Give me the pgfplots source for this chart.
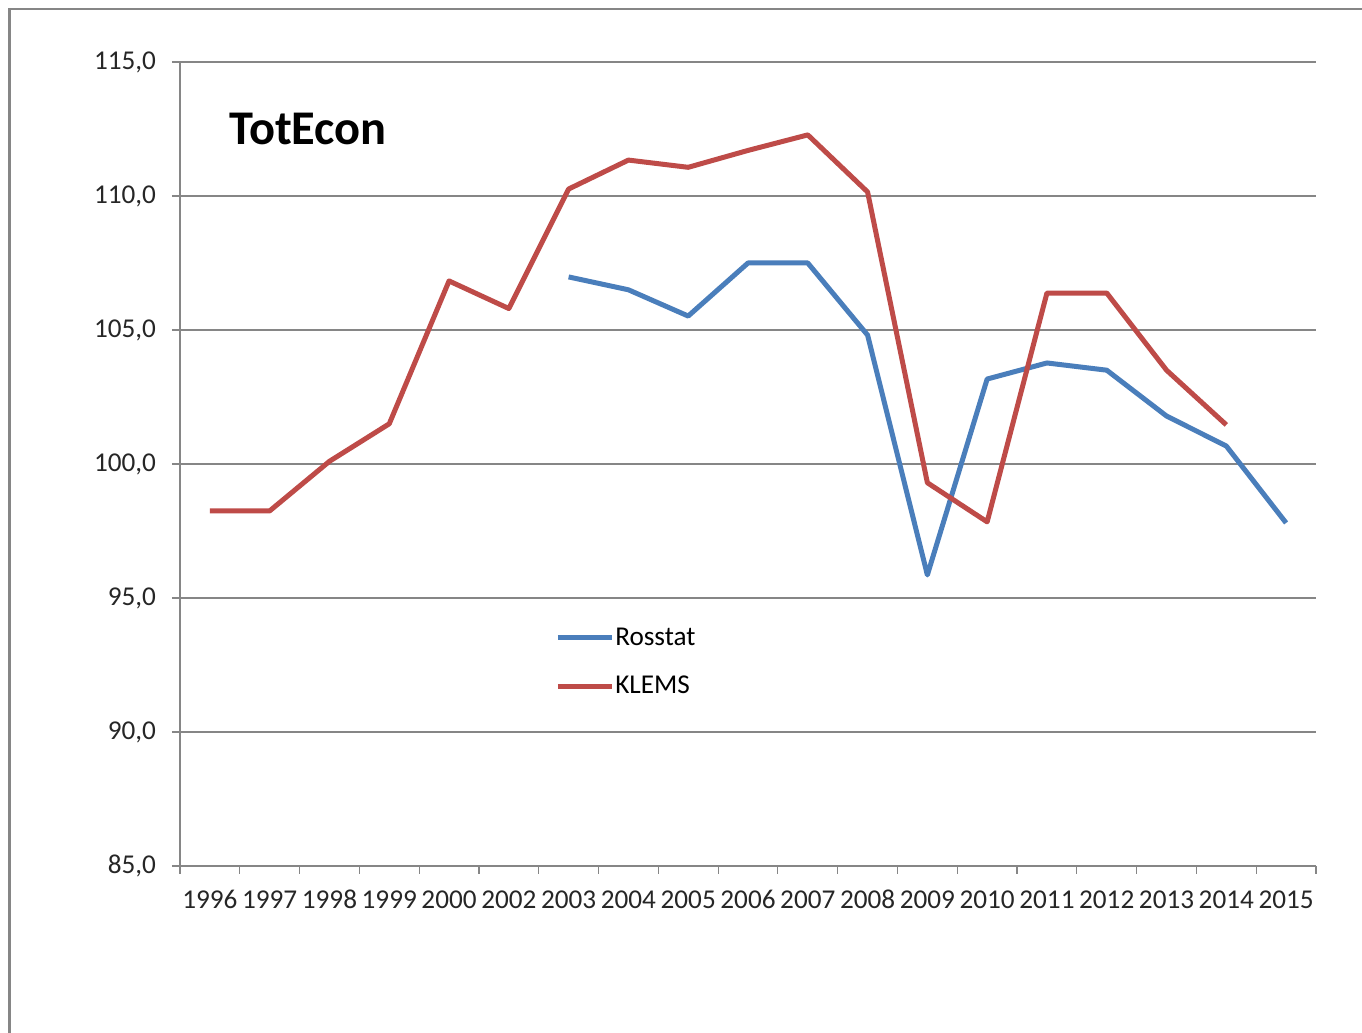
\documentclass[border=0pt]{standalone}
\usepackage{pgfplots}
\pgfplotsset{compat=1.18}
\usepackage{fontspec}
\setmainfont{Carlito}
\definecolor{rossblue}{HTML}{4A7EBB}
\definecolor{klemsred}{HTML}{BE4B48}
\definecolor{gridgray}{HTML}{868686}
\begin{document}
\begin{tikzpicture}
\path[use as bounding box] (0pt,0pt) rectangle (681pt,516.5pt);
\draw[color=gray!95, line width=1.3pt] (4.7pt,0pt) -- (4.7pt,512pt) -- (681pt,512pt);
\begin{axis}[
  at={(90pt,83.5pt)}, anchor=south west,
  scale only axis, width=568pt, height=402pt,
  xmin=-0.5, xmax=18.5, ymin=85, ymax=115,
  xtick={0,...,18},
  xticklabels={1996,1997,1998,1999,2000,2002,2003,2004,2005,2006,2007,2008,2009,2010,2011,2012,2013,2014,2015},
  minor xtick={-0.5,0.5,...,18.5},
  ytick={85,90,...,115},
  major x tick style={draw=none},
  tick align=outside,
  major tick length=4pt, minor tick length=4pt,
  tick style={gridgray, line width=0.6pt},
  axis x line*=bottom, axis y line*=left,
  axis line style={gridgray, line width=0.6pt, -},
  ymajorgrids, grid style={gridgray, line width=0.6pt},
  yticklabel style={/pgf/number format/fixed, /pgf/number format/fixed zerofill,
    /pgf/number format/precision=1, /pgf/number format/use comma,
    /pgf/number format/1000 sep={}, xshift=-4.5pt},
  /pgf/number format/assume math mode=true,
  ticklabel style={font=\fontsize{13.6}{15}\selectfont, text=black!85},
  xticklabel style={text height=9.5pt, text depth=0pt, yshift=-4pt},
  legend style={at={(rel axis cs:0.33,0.297)}, anchor=north west, draw=none, fill=none,
    font=\fontsize{13.6}{15}\selectfont, row sep=14pt, inner sep=0pt,
    nodes={inner xsep=0.5pt, inner ysep=0pt}},
  legend cell align=left,
  legend image code/.code={\draw[#1] (0pt,0pt) -- (27pt,0pt);},
  clip=false,
]
\addplot[rossblue, line width=2.5pt, line join=round] coordinates {
(6,106.98) (7,106.5) (8,105.52) (9,107.5) (10,107.5) (11,104.81) (12,95.86)
(13,103.17) (14,103.77) (15,103.5) (16,101.79) (17,100.67) (18,97.8)};
\addlegendentry{Rosstat}
\addplot[klemsred, line width=2.5pt, line join=round] coordinates {
(0,98.25) (1,98.25) (2,100.1) (3,101.5) (4,106.83) (5,105.8) (6,110.26)
(7,111.34) (8,111.07) (9,111.7) (10,112.28) (11,110.15) (12,99.3) (13,97.84)
(14,106.38) (15,106.38) (16,103.5) (17,101.46)};
\addlegendentry{KLEMS}
\node[anchor=base west, inner sep=0pt, font=\fontsize{24.2}{30}\selectfont\bfseries]
  at (rel axis cs:0.043,0.897) {TotEcon};
\end{axis}
\end{tikzpicture}
\end{document}
